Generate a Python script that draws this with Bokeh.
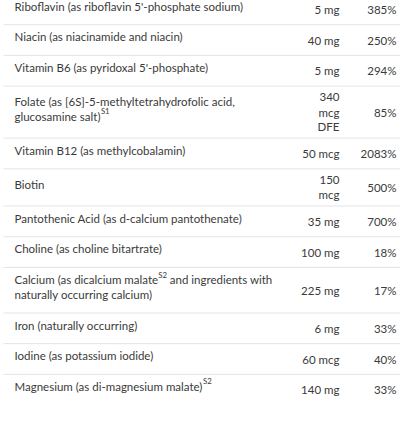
import re
from bokeh.plotting import figure
from bokeh.models import Range1d, ColumnDataSource
from bokeh.embed import file_html
from bokeh.resources import INLINE
from bokeh.core.properties import value

# ---- data -------------------------------------------------------------
# "|" separates wrapped lines, "^{..}" marks a superscript note
nutrients = [
    "Riboflavin (as riboflavin 5'-phosphate sodium)",
    "Niacin (as niacinamide and niacin)",
    "Vitamin B6 (as pyridoxal 5'-phosphate)",
    "Folate (as [6S]-5-methyltetrahydrofolic acid,|glucosamine salt)^{S1}",
    "Vitamin B12 (as methylcobalamin)",
    "Biotin",
    "Pantothenic Acid (as d-calcium pantothenate)",
    "Choline (as choline bitartrate)",
    "Calcium (as dicalcium malate^{S2} and ingredients with|naturally occurring calcium)",
    "Iron (naturally occurring)",
    "Iodine (as potassium iodide)",
    "Magnesium (as di-magnesium malate)^{S2}",
]
amounts = ["5 mg", "40 mg", "5 mg", "340|mcg|DFE", "50 mcg", "150|mcg",
           "35 mg", "100 mg", "225 mg", "6 mg", "60 mcg", "140 mg"]
percents = ["385%", "250%", "294%", "85%", "2083%", "500%",
            "700%", "18%", "17%", "33%", "40%", "33%"]

# ---- style ------------------------------------------------------------
FONT = "Lato"
FS = 11.5
SUP_FS = 7.8
TEXT_COLOR = "#3a3a3a"
RULE_COLOR = "#e4e4e4"

W = dict(a=.49, b=.55, c=.45, d=.55, e=.51, f=.32, g=.49, h=.55, i=.23, j=.23,
         k=.49, l=.23, m=.82, n=.55, o=.54, p=.55, q=.55, r=.36, s=.42, t=.34,
         u=.55, v=.49, w=.75, x=.48, y=.49, z=.45)
W.update({"B": .62, "C": .66, "D": .72, "F": .55, "I": .27, "M": .85, "N": .73,
          "P": .59, "R": .62, "S": .52, "V": .67, " ": .19, "(": .30, ")": .30,
          "[": .30, "]": .30, "-": .35, "'": .23, ",": .22, ".": .22})
for dch in "0123456789":
    W[dch] = .58


def text_width(s, fs):
    return sum(W.get(ch, .52) for ch in s) * fs * 1.03


# figure sits at the page's 8px margin; data units are page pixels
M, PW, PH = 8, 400, 407
S = 0.93              # vertical squeeze so the last row stays well inside


def sy(v):
    return M + S * (v - M)


p = figure(width=PW, height=PH, x_range=Range1d(M, M + PW), y_range=Range1d(M + PH, M),
           output_backend="svg", toolbar_location=None,
           x_axis_type=None, y_axis_type=None, min_border=0)
p.outline_line_color = None
p.background_fill_color = "white"
p.border_fill_color = "white"

name_src = dict(x=[], y=[], text=[])
sup_src = dict(x=[], y=[], text=[])
amt_src = dict(y=[], text=[])
pct_src = dict(y=[], text=[])
rule_y = []

X_NAME, X_AMT, X_PCT = 22, 347, 404
LINE_H = 16
AMT_LINE_H = 15.7

top = 1.0
for name, amt, pct in zip(nutrients, amounts, percents):
    nlines = name.split("|")
    alines = amt.split("|")
    h = max(31.5, LINE_H * len(alines) + 8, LINE_H * len(nlines) + 17)
    c = top + h / 2
    rule_y.append(sy(top))
    for k, ln in enumerate(nlines):
        y = sy(c - 3.5 + (k - (len(nlines) - 1) / 2) * LINE_H)
        xc = X_NAME
        parts = re.split(r"\^\{(.*?)\}", ln)
        for j, part in enumerate(parts):
            if not part:
                continue
            if j % 2 == 0:
                lead = len(part) - len(part.lstrip(" "))
                xc += text_width(" " * lead, FS)
                body = part.strip(" ")
                name_src["x"].append(xc)
                name_src["y"].append(y)
                name_src["text"].append(body)
                xc += text_width(body, FS)
            else:
                sup_src["x"].append(xc + 0.5)
                sup_src["y"].append(y - 5.0)
                sup_src["text"].append(part)
                xc += text_width(part, SUP_FS) + 1.0
    for k, ln in enumerate(alines):
        amt_src["y"].append(sy(c + (k - (len(alines) - 1) / 2) * AMT_LINE_H))
        amt_src["text"].append(ln)
    pct_src["y"].append(sy(c))
    pct_src["text"].append(pct)
    top += h

p.segment(x0=11, x1=M + PW + 4, y0=rule_y, y1=rule_y, line_color=RULE_COLOR, line_width=1)

common = dict(text_font=value(FONT), text_color=TEXT_COLOR, text_baseline="middle")
p.text(x="x", y="y", text="text", source=ColumnDataSource(name_src),
       text_align="left", text_font_size=f"{FS}px", **common)
p.text(x="x", y="y", text="text", source=ColumnDataSource(sup_src),
       text_align="left", text_font_size=f"{SUP_FS}px", **common)
p.text(x=X_AMT, y="y", text="text", source=ColumnDataSource(amt_src),
       text_align="right", text_font_size=f"{FS}px", **common)
p.text(x=X_PCT, y="y", text="text", source=ColumnDataSource(pct_src),
       text_align="right", text_font_size=f"{FS}px", **common)

open("out.html", "w").write(file_html(p, INLINE))
